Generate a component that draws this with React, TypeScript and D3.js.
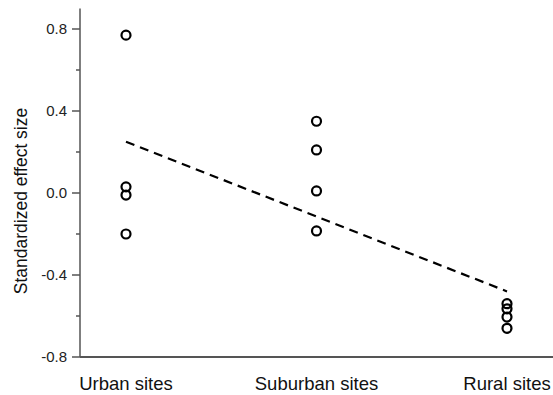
import React, { useRef, useEffect } from 'react';
import * as d3 from 'd3';

const categories = ['Urban sites', 'Suburban sites', 'Rural sites'];
const urbanValues = [0.77, 0.03, -0.01, -0.2];
const suburbanValues = [0.35, 0.21, 0.01, -0.185];
const ruralValues = [-0.54, -0.565, -0.605, -0.66];
const trendValues = [0.25, -0.48];
const yTicks = [-0.8, -0.4, 0.0, 0.4, 0.8];
const yMinorTicks = [-0.6, -0.2, 0.2, 0.6];

const App = () => {
  const ref = useRef<SVGSVGElement>(null);

  useEffect(() => {
    const svg = d3.select(ref.current);
    svg.selectAll('*').remove();

    const width = 553, height = 395;
    const font = 'Liberation Sans, Arial, sans-serif';
    const axisColor = '#555';

    svg.attr('width', width).attr('height', height);

    const x = d3.scalePoint().domain(categories).range([126, 507]);
    const y = d3.scaleLinear().domain([-0.8, 0.9]).range([357, 8.5]);

    const g = svg.append('g');

    // axes lines
    g.append('line')
      .attr('x1', 80).attr('x2', 80)
      .attr('y1', y(0.9)).attr('y2', y(-0.8))
      .attr('stroke', axisColor).attr('stroke-width', 1.5);
    g.append('line')
      .attr('x1', 80).attr('x2', width)
      .attr('y1', y(-0.8)).attr('y2', y(-0.8))
      .attr('stroke', axisColor).attr('stroke-width', 2);

    g.selectAll('.major')
      .data(yTicks)
      .enter()
      .append('line')
      .attr('x1', 72).attr('x2', 80)
      .attr('y1', (d) => y(d)).attr('y2', (d) => y(d))
      .attr('stroke', axisColor).attr('stroke-width', 1.5);

    g.selectAll('.minor')
      .data(yMinorTicks)
      .enter()
      .append('line')
      .attr('x1', 76).attr('x2', 80)
      .attr('y1', (d) => y(d)).attr('y2', (d) => y(d))
      .attr('stroke', axisColor).attr('stroke-width', 1.5);

    g.selectAll('.ylab')
      .data(yTicks)
      .enter()
      .append('text')
      .attr('x', 67)
      .attr('y', (d) => y(d))
      .attr('dy', '0.35em')
      .attr('text-anchor', 'end')
      .attr('font-family', font)
      .attr('font-size', 15)
      .attr('fill', '#222')
      .text((d) => d.toFixed(1));

    g.selectAll('.xlab')
      .data(categories)
      .enter()
      .append('text')
      .attr('x', (d) => x(d)!)
      .attr('y', 390)
      .attr('text-anchor', 'middle')
      .attr('font-family', font)
      .attr('font-size', 18.5)
      .attr('fill', '#111')
      .text((d) => d);

    g.append('text')
      .attr('transform', 'translate(27,201) rotate(-90)')
      .attr('text-anchor', 'middle')
      .attr('font-family', font)
      .attr('font-size', 17.5)
      .attr('fill', '#111')
      .text('Standardized effect size');

    // trend line
    const line = d3.line<number>()
      .x((d, i) => x(categories[i * 2])!)
      .y((d) => y(d));
    g.append('path')
      .attr('d', line(trendValues))
      .attr('fill', 'none')
      .attr('stroke', '#000')
      .attr('stroke-width', 2.2)
      .attr('stroke-dasharray', '9,6');

    const groups = [urbanValues, suburbanValues, ruralValues];
    groups.forEach((vals, i) => {
      g.selectAll(`.pt${i}`)
        .data(vals)
        .enter()
        .append('circle')
        .attr('cx', x(categories[i])!)
        .attr('cy', (d) => y(d))
        .attr('r', 4.5)
        .attr('fill', 'none')
        .attr('stroke', '#000')
        .attr('stroke-width', 2.2);
    });
  }, []);

  return <svg ref={ref} style={{ position: 'absolute', left: 0, top: 0 }}></svg>;
};

export default App;
